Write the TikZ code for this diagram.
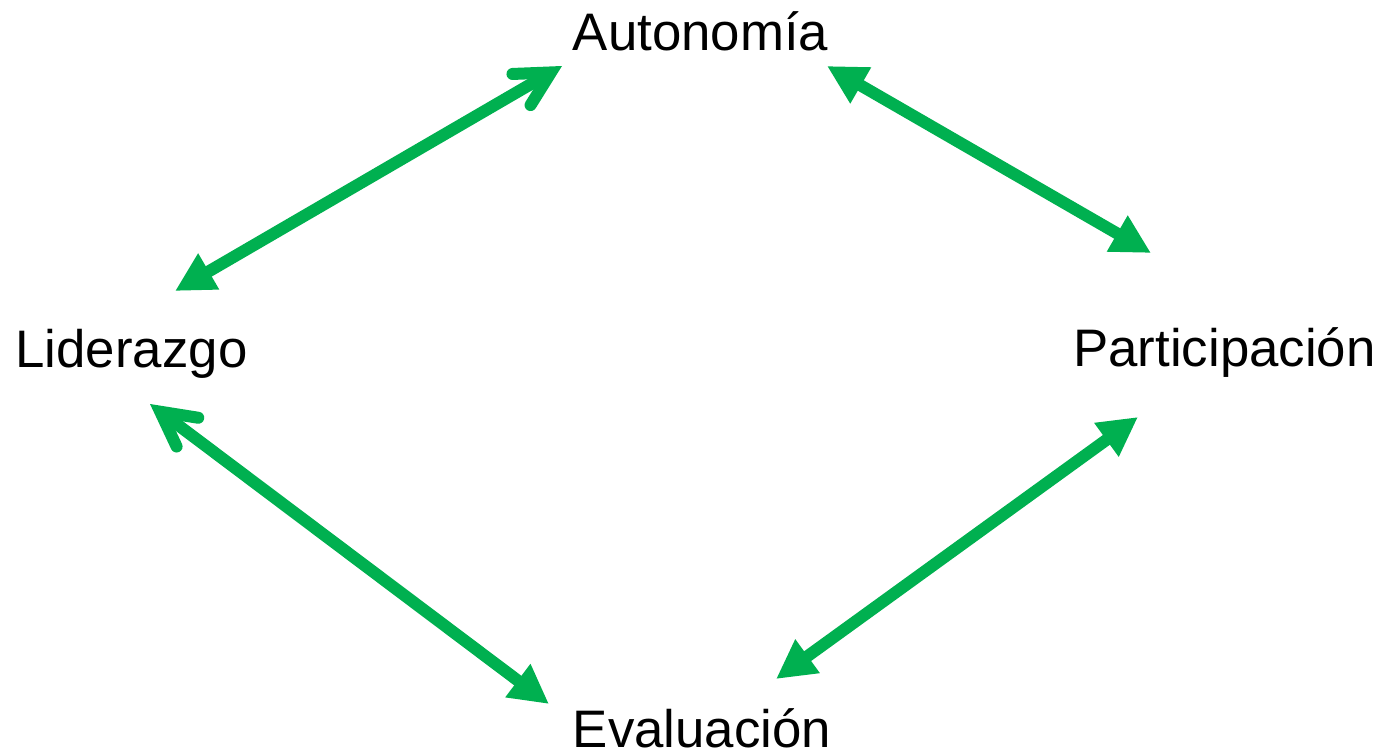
\documentclass[tikz,border=0pt]{standalone}
\usepackage{fontspec}
\setmainfont{Liberation Sans}
\usepackage{xcolor}
\usetikzlibrary{arrows.meta}
\definecolor{officegreen}{HTML}{00B050}
\tikzstyle{label} = [anchor=base, inner sep=0pt, font=\fontsize{26.4}{31}\selectfont]
\tikzstyle{link} = [draw=officegreen, line width=6pt]
\tikzset{
  tri/.tip={Triangle[length=19.5pt,width=19.5pt]},
  barb/.tip={Straight Barb[length=17pt,width=18pt,line cap=round,line join=miter]}
}
\begin{document}
\begin{tikzpicture}[x=0.5pt,y=-0.5pt]

\useasboundingbox (0,0) rectangle (1381,755);

\node[label] (aut) at (700.5,50) {Autonomía};
\node[label] (lid) at (131.5,367) {Liderazgo};
\node[label] (par) at (1224.5,366) {Participación};
\node[label] (eva) at (702,747) {Evaluación};

% arrow ends
\coordinate (lidA) at (175,291);
\coordinate (autL) at (562,66);
\coordinate (autP) at (827,66);
\coordinate (parA) at (1151,253);
\coordinate (lidE) at (150,404);
\coordinate (evaL) at (549,704);
\coordinate (evaP) at (776,679);
\coordinate (parE) at (1138,417);

\draw[link, tri-barb] (lidA) -- (autL);
\draw[link, tri-tri] (autP) -- (parA);
\draw[link, barb-tri] (lidE) -- (evaL);
\draw[link, tri-tri] (evaP) -- (parE);
\end{tikzpicture}
\end{document}
